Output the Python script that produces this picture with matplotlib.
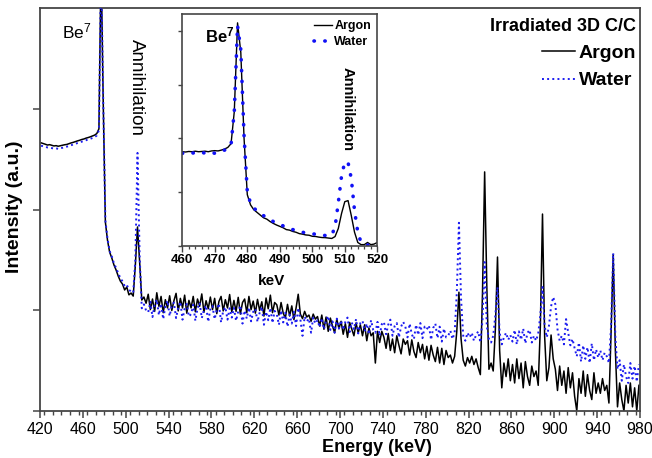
import numpy as np
import matplotlib
matplotlib.use('Agg')
import matplotlib.pyplot as plt
from matplotlib.ticker import MultipleLocator, NullFormatter, NullLocator, FixedLocator

plt.rcParams['font.family'] = ['Liberation Sans', 'DejaVu Sans']
plt.rcParams['mathtext.fontset'] = 'custom'
plt.rcParams['mathtext.rm'] = 'Liberation Sans'
plt.rcParams['mathtext.it'] = 'Liberation Sans:italic'
plt.rcParams['mathtext.bf'] = 'Liberation Sans:bold'

# ---------------- main spectrum (2 keV channels, 421..979 keV) ----------------
energy_keV = np.arange(421, 980, 2)

argon_counts = [
    46500, 45800, 45000, 44200, 44600, 44000, 43300, 43600, 43000, 43500,
    44000, 44500, 44800, 45600, 46400, 47000, 47800, 48600, 49300, 50200,
    50800, 51800, 52500, 53400, 54500, 55500, 57500, 64000, 3000000, 120000,
    7600, 5000, 3800, 3330, 2840, 2530, 2200, 1960, 1830, 1600,
    1710, 1430, 1490, 1390, 2840, 6770, 3030, 1270, 1360, 1180,
    1450, 1020, 1300, 980, 1500, 1100, 1380, 950, 1280, 1060,
    1400, 1000, 1250, 1480, 990, 1320, 1060, 1420, 940, 1260,
    1060, 1380, 970, 1300, 1100, 1460, 960, 1250, 1040, 1360,
    1020, 1320, 930, 1230, 1380, 990, 1280, 1060, 1440, 970,
    1260, 980, 1350, 920, 1200, 1300, 950, 1380, 1020, 1240,
    940, 1290, 1000, 1220, 880, 1330, 1040, 1420, 950, 1200,
    1140, 900, 1200, 940, 840, 1150, 880, 1110, 810, 1060,
    1450, 920, 830, 980, 860, 900, 780, 920, 820, 870,
    700, 900, 650, 860, 620, 840, 700, 600, 820, 660,
    780, 580, 740, 540, 760, 650, 560, 750, 600, 720,
    560, 720, 500, 670, 560, 600, 300, 620, 480, 620,
    540, 420, 590, 400, 520, 380, 560, 450, 370, 520,
    460, 500, 360, 510, 390, 340, 480, 380, 460, 330,
    440, 320, 450, 360, 310, 430, 300, 420, 290, 400,
    340, 360, 300, 350, 620, 1520, 520, 320, 280, 340,
    300, 350, 290, 330, 270, 230, 1500, 23900, 1800, 260,
    300, 250, 650, 3400, 400, 170, 300, 220, 330, 200,
    290, 190, 330, 210, 300, 170, 310, 220, 180, 280,
    220, 250, 180, 700, 9100, 550, 200, 270, 570, 330,
    260, 160, 280, 180, 250, 150, 270, 170, 240, 140,
    100, 210, 150, 250, 140, 230, 160, 130, 240, 150,
    190, 150, 210, 160, 180, 120, 600, 3600, 400, 110,
    190, 130, 100, 180, 120, 190, 110, 170, 100, 180,
]

water_counts = [
    43500, 43000, 42500, 41800, 41600, 41200, 40800, 41000, 40500, 41200,
    41500, 42000, 42600, 43200, 44000, 44800, 45500, 46200, 47000, 47800,
    48500, 49500, 50200, 51000, 52000, 53000, 55000, 62000, 3000000, 125000,
    7900, 5200, 3900, 3450, 2950, 2650, 2350, 2100, 1950, 1750,
    1800, 1600, 1550, 1500, 3200, 36900, 3500, 1050, 1150, 1000,
    960, 1220, 860, 1130, 1280, 900, 1170, 820, 1100, 1250,
    880, 1120, 1200, 840, 1070, 1220, 810, 1050, 1160, 870,
    920, 1140, 790, 1050, 1190, 840, 1010, 1120, 770, 1040,
    1110, 820, 1010, 1170, 760, 990, 1080, 810, 1050, 850,
    1060, 790, 980, 1120, 740, 1000, 830, 1070, 780, 970,
    1040, 770, 950, 1090, 720, 970, 800, 1060, 750, 990,
    920, 720, 1000, 760, 950, 690, 910, 740, 970, 700,
    1060, 820, 560, 870, 780, 830, 600, 850, 740, 800,
    680, 840, 650, 790, 880, 640, 780, 600, 830, 660,
    800, 640, 770, 850, 610, 760, 650, 820, 590, 750,
    790, 620, 740, 580, 800, 640, 600, 770, 560, 730,
    770, 580, 720, 810, 560, 700, 750, 540, 690, 770,
    690, 540, 740, 580, 520, 720, 570, 750, 530, 690,
    650, 710, 510, 670, 740, 530, 690, 490, 660, 540,
    560, 630, 520, 600, 1500, 7450, 1300, 560, 500, 600,
    540, 600, 500, 570, 620, 480, 800, 3030, 700, 520,
    480, 560, 900, 1710, 600, 460, 540, 600, 510, 570,
    490, 640, 460, 620, 510, 660, 470, 600, 640, 480,
    560, 500, 590, 900, 1710, 700, 540, 700, 1100, 1360,
    1150, 650, 500, 560, 460, 820, 600, 450, 520, 420,
    350, 480, 310, 450, 330, 430, 300, 470, 320, 410,
    340, 400, 320, 380, 350, 300, 700, 3720, 550, 260,
    320, 200, 290, 220, 190, 300, 210, 280, 195, 290,
]

# ---------------- inset (1 keV channels, 460..520 keV) ----------------
inset_energy_keV = np.arange(460, 521, 1)
inset_argon = [
    1750, 1745, 1755, 1750, 1760, 1750, 1755, 1760, 1750, 1765,
    1770, 1765, 1780, 1800, 1830, 1900, 2500, 4150, 3600, 2000,
    950, 760, 670, 620, 570, 520, 495, 450, 415, 385,
    360, 335, 300, 290, 265, 250, 225, 215, 200, 195,
    175, 172, 160, 152, 150, 142, 135, 170, 320, 600,
    820, 840, 560, 250, 60, 20, 20, 60, 20, 30,
    60,
]
inset_water = [
    1720, 1730, 1715, 1725, 1730, 1720, 1735, 1725, 1720, 1740,
    1720, 1745, 1760, 1780, 1810, 1880, 2500, 4100, 3650, 2050,
    1000, 790, 700, 650, 600, 560, 520, 490, 450, 420,
    400, 370, 350, 320, 300, 290, 270, 250, 240, 230,
    220, 215, 200, 195, 190, 185, 200, 350, 800, 1300,
    1560, 1550, 1250, 650, 250, 60, 30, 10, 20, 10,
    15,
]

W, H = 652, 458
fig = plt.figure(figsize=(W / 100, H / 100), dpi=100)
spine_col = '#454545'

# ---------------- main axes ----------------
ax = fig.add_axes([40 / W, 1 - 411 / H, 600 / W, 403 / H])
ax.plot(energy_keV, argon_counts, color='black', lw=1.1, label='Argon', zorder=2)
ax.plot(energy_keV, water_counts, color='#1c1cf0', lw=1.4, ls=':', label='Water', zorder=3)
ax.set_yscale('log')
ax.set_xlim(420, 980)
ax.set_ylim(100, 1.02e6)
ax.set_xticks(np.arange(420, 981, 40))
ax.xaxis.set_minor_locator(MultipleLocator(8))
ax.yaxis.set_major_locator(FixedLocator([100, 1000, 1e4, 1e5]))
ax.yaxis.set_major_formatter(NullFormatter())
ax.yaxis.set_minor_locator(NullLocator())
ax.tick_params(axis='x', which='major', direction='out', length=5, width=1.1,
               color=spine_col, labelsize=11.5, pad=3)
ax.tick_params(axis='x', which='minor', direction='out', length=3, width=1.0, color=spine_col)
ax.tick_params(axis='y', which='major', direction='out', length=5, width=1.1, color=spine_col)
for s in ax.spines.values():
    s.set_color(spine_col)
    s.set_linewidth(1.3)

leg = ax.legend(loc='upper right', bbox_to_anchor=(1.01, 1.0), frameon=False,
                title='Irradiated 3D C/C',
                prop={'weight': 'bold', 'size': 14},
                title_fontproperties={'weight': 'bold', 'size': 13},
                alignment='right', handlelength=1.7, handletextpad=0.2,
                labelspacing=0.5, borderaxespad=0.1)

fig.text(377 / W, 1 - 448 / H, 'Energy (keV)', ha='center', va='center',
         fontsize=13, fontweight='bold')
fig.text(15 / W, 1 - 207 / H, 'Intensity (a.u.)', ha='center', va='center',
         rotation=90, fontsize=14, fontweight='bold')
fig.text(77 / W, 1 - 31 / H, 'Be$^{7}$', ha='center', va='center', fontsize=12.5)
fig.text(136 / W, 1 - 87.5 / H, 'Annihilation', ha='center', va='center',
         rotation=270, fontsize=13.5)

# ---------------- inset ----------------
axin = fig.add_axes([182.3 / W, 1 - 245.7 / H, 195 / W, 231.7 / H])
axin.set_facecolor('white')
axin.plot(inset_energy_keV, inset_argon, color='black', lw=1.0, label='Argon')
axin.plot(inset_energy_keV, inset_water, color='#1010f5', lw=2.6, ls=(0, (0.1, 2.9)),
          dash_capstyle='round', label='Water')
axin.set_xlim(460, 520)
axin.set_ylim(0, 4315)
axin.set_xticks(np.arange(460, 521, 10))
axin.xaxis.set_minor_locator(MultipleLocator(2))
axin.yaxis.set_major_locator(FixedLocator([0, 1000, 2000, 3000, 4000]))
axin.yaxis.set_major_formatter(NullFormatter())
axin.tick_params(axis='x', which='major', direction='out', length=4, width=1.0,
                 color=spine_col, labelsize=9.5, pad=2)
axin.tick_params(axis='x', which='minor', direction='out', length=2.5, width=0.9, color=spine_col)
axin.tick_params(axis='y', which='major', direction='out', length=3, width=1.0, color=spine_col)
for lab in axin.get_xticklabels():
    lab.set_fontweight('bold')
for s in axin.spines.values():
    s.set_color(spine_col)
    s.set_linewidth(1.2)
axin.legend(loc='upper right', frameon=False, prop={'weight': 'bold', 'size': 9},
            handlelength=1.4, handletextpad=0.2, labelspacing=0.3,
            borderaxespad=0.3, borderpad=0.2)

fig.text(271.5 / W, 1 - 281 / H, 'keV', ha='center', va='center',
         fontsize=11, fontweight='bold')
fig.text(220 / W, 1 - 35 / H, r'Be$^{\mathbf{7}}$', ha='center', va='center',
         fontsize=12, fontweight='bold')
fig.text(348 / W, 1 - 109 / H, 'Annihilation', ha='center', va='center',
         rotation=270, fontsize=10.5, fontweight='bold')

fig.savefig('out.png', dpi=100)
